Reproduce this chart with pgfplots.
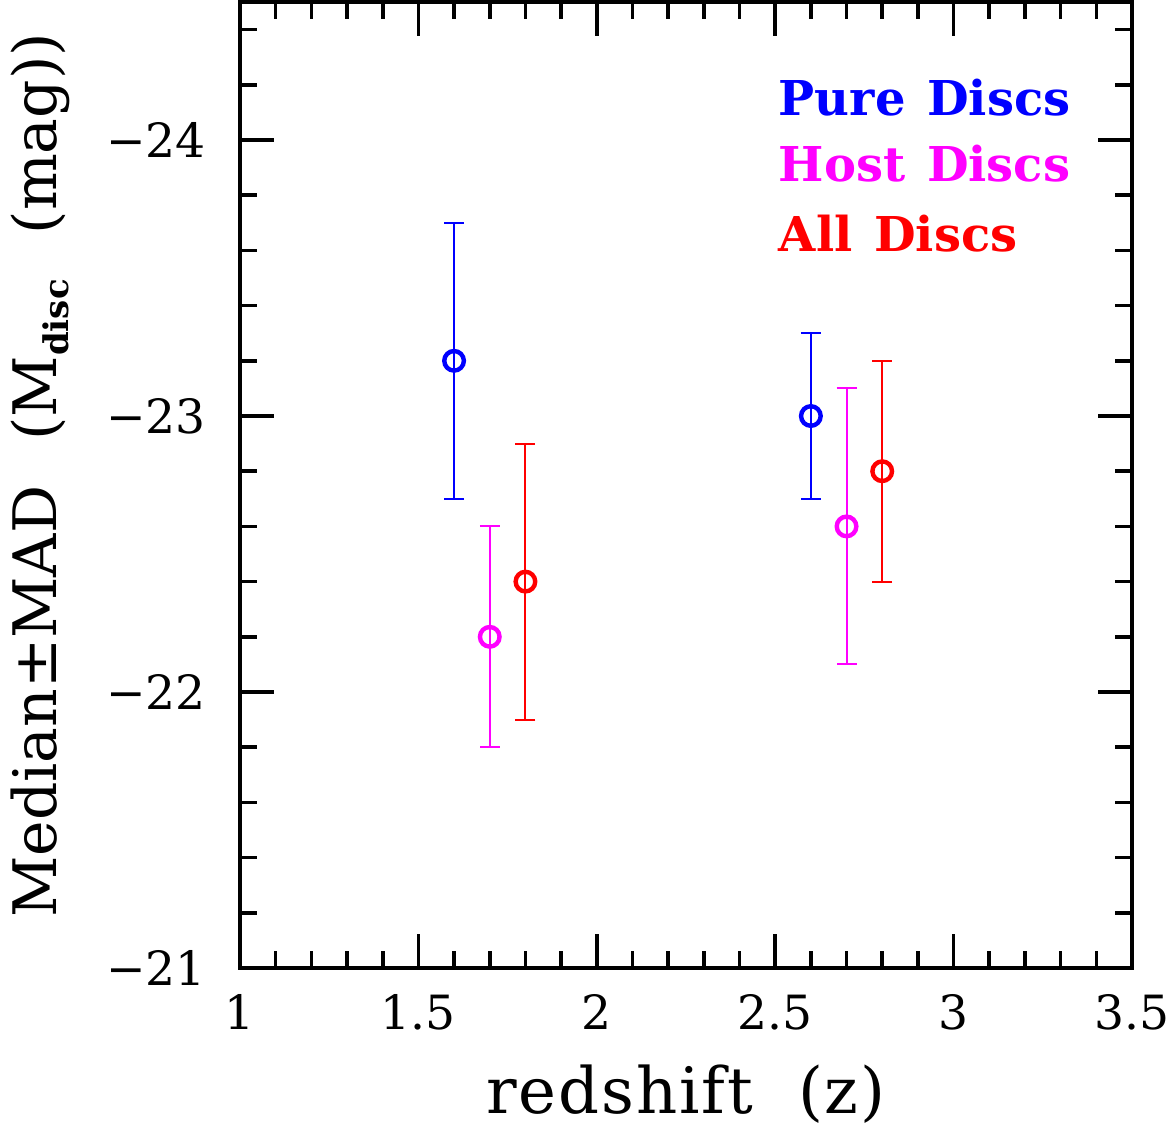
\documentclass[border=0pt]{standalone}
\usepackage{fontspec}
\setmainfont{DejaVu Serif}
\newfontfamily\labelfont[LetterSpace=3]{DejaVu Serif}
\usepackage{pgfplots}
\pgfplotsset{compat=1.18}
\definecolor{pblue}{RGB}{0,0,255}
\definecolor{pmag}{RGB}{255,0,255}
\definecolor{pred}{RGB}{255,0,0}
\begin{document}
\begin{tikzpicture}
\useasboundingbox (-60pt,-42pt) rectangle (232.75pt,242pt);
\begin{axis}[
 at={(0,0)}, anchor=south west,
 scale only axis, width=223pt, height=241.5pt,
 xmin=1, xmax=3.5, ymin=-24.5, ymax=-21, y dir=reverse,
 xtick={1,1.5,2,2.5,3,3.5}, xticklabels={1,1.5,2,2.5,3,3.5},
 minor xtick={1.1,1.2,...,3.41},
 ytick={-24,-23,-22,-21}, yticklabels={−24,−23,−22,−21},
 minor ytick={-24.4,-24.2,...,-21.1},
 tick align=inside, major tick length=8.5pt, minor tick length=4.25pt,
 every tick/.style={black, line width=0.9pt},
 axis line style={line width=1pt},
 ticklabel style={font=\fontsize{11.8}{13}\selectfont},
 xticklabel style={yshift=-3pt},
 yticklabel style={xshift=-5pt},
 xlabel={redshift\hspace{0.7em}(z)},
 xlabel style={at={(axis description cs:0.5,-0.131)}, anchor=center, font=\fontsize{16}{18}\selectfont\labelfont},
 ylabel={Median±MAD\hspace{0.75em}(M\raisebox{-0.4ex}{\fontsize{8.5}{10}\selectfont\bfseries disc}\hspace{0.75em}(mag))},
 ylabel style={at={(axis description cs:-0.224,0.51)}, anchor=center, font=\fontsize{15}{17}\selectfont},
]
\addplot[pblue, only marks, mark=o, mark size=2.45pt, mark options={line width=1.1pt},
  error bars/.cd, y dir=both, y explicit, error bar style={line width=0.5pt},
  error mark options={rotate=90, mark size=2.5pt, line width=0.5pt}]
  coordinates {(1.6,-23.2) +- (0,0.5) (2.6,-23.0) +- (0,0.3)};
\addplot[pmag, only marks, mark=o, mark size=2.45pt, mark options={line width=1.1pt},
  error bars/.cd, y dir=both, y explicit, error bar style={line width=0.5pt},
  error mark options={rotate=90, mark size=2.5pt, line width=0.5pt}]
  coordinates {(1.7,-22.2) +- (0,0.4) (2.7,-22.6) +- (0,0.5)};
\addplot[pred, only marks, mark=o, mark size=2.45pt, mark options={line width=1.1pt},
  error bars/.cd, y dir=both, y explicit, error bar style={line width=0.5pt},
  error mark options={rotate=90, mark size=2.5pt, line width=0.5pt}]
  coordinates {(1.8,-22.4) +- (0,0.5) (2.8,-22.8) +- (0,0.4)};
\node[anchor=base west, inner sep=0pt, text=pblue, font=\fontsize{12}{14}\selectfont\bfseries] at (axis cs:2.508,-24.09) {Pure\hspace{0.45em}Discs};
\node[anchor=base west, inner sep=0pt, text=pmag, font=\fontsize{12}{14}\selectfont\bfseries] at (axis cs:2.508,-23.85) {Host\hspace{0.45em}Discs};
\node[anchor=base west, inner sep=0pt, text=pred, font=\fontsize{12}{14}\selectfont\bfseries] at (axis cs:2.508,-23.595) {All\hspace{0.45em}Discs};
\end{axis}
\end{tikzpicture}
\end{document}
